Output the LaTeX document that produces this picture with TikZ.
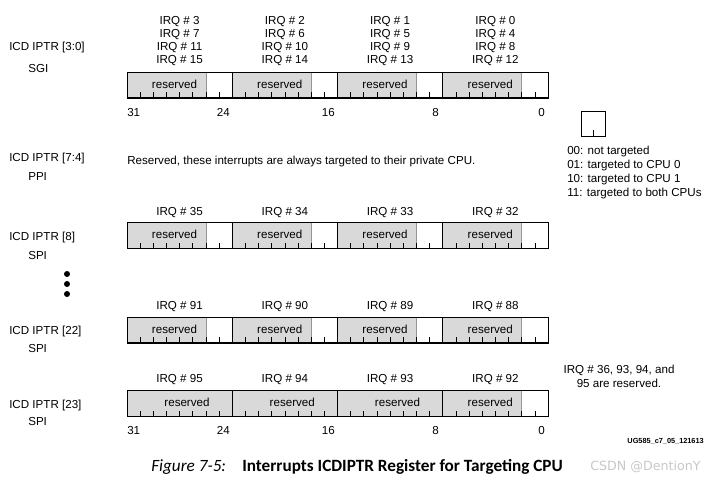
\documentclass[tikz,border=0pt]{standalone}
\usepackage{fontspec}
\setmainfont{Liberation Sans}
\newfontfamily\capfont{Carlito}
\newfontfamily\wmfont{DejaVu Sans}
\definecolor{regfill}{RGB}{217,217,217}
\definecolor{regedge}{RGB}{150,150,150}
\definecolor{wmgray}{RGB}{200,200,200}
\tikzset{
  txt/.style={inner sep=0pt, font=\fontsize{8.7}{10}\selectfont},
  grayfield/.style={fill=regfill, draw=regedge, line width=0.4pt},
  regline/.style={line width=0.6pt},
  tick/.style={line width=0.5pt},
}
\newcommand{\regrow}[2]{%
  % #1 = top y, #2 = list of gray bit counts per byte (left to right)
  \foreach \g [count=\b from 0] in {#2} {
    \pgfmathsetmacro\xl{127+\b*105.25}
    \pgfmathsetmacro\xg{\xl+\g*13.15625}
    \pgfmathsetmacro\xt{\xl+(\g==8 ? 60 : 47.5)}
    \fill[regfill] (\xl,#1) rectangle (\xg,#1+26);
    \draw[regedge,line width=0.4pt] (\xg,#1) -- (\xg,#1+26);
    \node[txt] (res-#1-\b) at (\xt,#1+12) {reserved};
    \foreach \k in {1,...,7} {
      \draw[tick] (\xl+\k*13.15625,#1+26) -- (\xl+\k*13.15625,#1+20);
    }
  }
  \draw[regline] (127,#1) rectangle (548,#1+26);
  \draw[line width=1pt] (127,#1+26) -- (548,#1+26);
  \foreach \b in {1,2,3} {
    \draw[regline] (127+\b*105.25,#1) -- (127+\b*105.25,#1+26);
  }
}
\newcommand{\bitlabels}[1]{%
  \node[txt,anchor=west] (b31-#1) at (127,#1) {31};
  \node[txt,anchor=east] (b24-#1) at (230,#1) {24};
  \node[txt,anchor=east] (b16-#1) at (335,#1) {16};
  \node[txt,anchor=east] (b8-#1) at (439,#1) {8};
  \node[txt,anchor=east] (b0-#1) at (545,#1) {0};
}
\newcommand{\irqrow}[5]{%
  \node[txt] (irq-#1-a) at (179.6,#1) {IRQ \# #2};
  \node[txt] (irq-#1-b) at (284.9,#1) {IRQ \# #3};
  \node[txt] (irq-#1-c) at (390.1,#1) {IRQ \# #4};
  \node[txt] (irq-#1-d) at (495.4,#1) {IRQ \# #5};
}
\begin{document}
\begin{tikzpicture}[x=0.75pt,y=-0.75pt]
\useasboundingbox (0,0) rectangle (713,480);
\fill[white] (0,0) rectangle (713,480);

% ---- SGI ----
\node[txt,anchor=west] (l30) at (9,47) {ICD IPTR [3:0]};
\node[txt,anchor=west] (sgi) at (28,68) {SGI};
\irqrow{22}{3}{2}{1}{0}
\irqrow{35}{7}{6}{5}{4}
\irqrow{48}{11}{10}{9}{8}
\irqrow{61}{15}{14}{13}{12}
\regrow{72}{6,6,6,6}
\bitlabels{112}

% ---- legend ----
\draw[regline] (581,111) rectangle (605,136);
\draw[tick] (593,136) -- (593,130);
\node[txt,anchor=west] (lg0) at (567,151) {00: not targeted};
\node[txt,anchor=west] (lg1) at (567,165) {01: targeted to CPU 0};
\node[txt,anchor=west] (lg2) at (567,179) {10: targeted to CPU 1};
\node[txt,anchor=west] (lg3) at (567,193) {11: targeted to both CPUs};

% ---- PPI ----
\node[txt,anchor=west] (l74) at (9,158) {ICD IPTR [7:4]};
\node[txt,anchor=west] (ppi) at (28,177) {PPI};
\node[txt,anchor=west] (ppitxt) at (127,161) {Reserved, these interrupts are always targeted to their private CPU.};

% ---- SPI 8 ----
\node[txt,anchor=west] (l8) at (9,237) {ICD IPTR [8]};
\node[txt,anchor=west] (spi8) at (28,255) {SPI};
\irqrow{213}{35}{34}{33}{32}
\regrow{222.5}{6,6,6,6}

% dots
\fill (67,274) circle (3);
\fill (67,284) circle (3);
\fill (67,294) circle (3);

% ---- SPI 22 ----
\node[txt,anchor=west] (l22) at (9,331) {ICD IPTR [22]};
\node[txt,anchor=west] (spi22) at (28,348) {SPI};
\irqrow{307}{91}{90}{89}{88}
\regrow{317}{6,6,6,6}

% note
\node[txt] (note1) at (619,370) {IRQ \# 36, 93, 94, and};
\node[txt] (note2) at (619,383) {95 are reserved.};

% ---- SPI 23 ----
\node[txt,anchor=west] (l23) at (9,405) {ICD IPTR [23]};
\node[txt,anchor=west] (spi23) at (28,421) {SPI};
\irqrow{380}{95}{94}{93}{92}
\regrow{390.5}{8,8,8,6}
\bitlabels{430}

% id
\node[inner sep=0pt,anchor=east,font=\fontsize{5.5}{6}\selectfont\bfseries] (ug) at (704,441) {UG585\_c7\_05\_121613};

% caption
\node[inner sep=0pt,anchor=west,font=\capfont\fontsize{12.9}{14}\selectfont\itshape] (figno) at (151,467) {Figure 7-5:};
\node[inner sep=0pt,anchor=west,font=\capfont\fontsize{12.9}{14}\selectfont\bfseries] (captxt) at (242,467) {Interrupts ICDIPTR Register for Targeting CPU};
\node[inner sep=0pt,anchor=west,text=wmgray,font=\wmfont\fontsize{9.5}{11}\selectfont] (wm) at (590,467) {CSDN @DentionY};
\end{tikzpicture}
\end{document}
